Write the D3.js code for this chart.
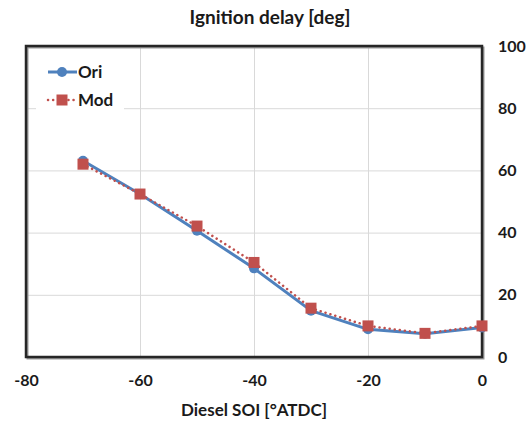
<!DOCTYPE html>
<html>
<head>
<meta charset="utf-8">
<script src="https://cdn.jsdelivr.net/npm/d3@7"></script>
<style>
  html, body { margin: 0; padding: 0; background: #fff; }
  svg { display: block; }
  text { font-family: Lato, "Open Sans", sans-serif; font-weight: bold; fill: #1a1a1a; }
</style>
</head>
<body>
<svg id="chart" width="532" height="427"></svg>
<script>
// Diesel start of injection (°ATDC)
const soi = [-70, -60, -50, -40, -30, -20, -10, 0];
// Ignition delay [deg] for each injection timing
const ori = [63.1, 52.4, 40.6, 28.5, 14.9, 8.9, 7.5, 9.5];
const mod = [62.0, 52.4, 42.1, 30.4, 15.7, 10.0, 7.6, 10.0];

const xTicks = [-80, -60, -40, -20, 0];
const yTicks = [0, 20, 40, 60, 80, 100];
const seriesNames = ["Ori", "Mod"];

const svg = d3.select("#chart");
const m = { left: 26, right: 482, top: 46, bottom: 357 };

const x = d3.scaleLinear().domain([-80, 0]).range([m.left, m.right]);
const y = d3.scaleLinear().domain([0, 100]).range([m.bottom, m.top]);
const plain = d => String(d); // hyphen-minus labels

// gridlines
svg.append("g")
  .attr("transform", `translate(0,${m.bottom})`)
  .call(d3.axisBottom(x).tickValues(xTicks.slice(1, -1)).tickSize(-(m.bottom - m.top)).tickFormat(""))
  .call(g => g.select(".domain").remove())
  .call(g => g.selectAll("line").attr("stroke", "#d9d9d9").attr("stroke-width", 1));
svg.append("g")
  .attr("transform", `translate(${m.left},0)`)
  .call(d3.axisLeft(y).tickValues(yTicks.slice(1, -1)).tickSize(-(m.right - m.left)).tickFormat(""))
  .call(g => g.select(".domain").remove())
  .call(g => g.selectAll("line").attr("stroke", "#d9d9d9").attr("stroke-width", 1));

// legend backing (hides gridline behind it)
svg.append("rect")
  .attr("x", 36).attr("y", 58).attr("width", 88).attr("height", 52)
  .attr("fill", "#fff");

// plot frame with soft shadow
svg.append("rect")
  .attr("x", m.left + 1.5).attr("y", m.top + 1.5)
  .attr("width", m.right - m.left).attr("height", m.bottom - m.top)
  .attr("fill", "none").attr("stroke", "#9a9a9a").attr("stroke-width", 2);
svg.append("rect")
  .attr("x", m.left).attr("y", m.top)
  .attr("width", m.right - m.left).attr("height", m.bottom - m.top)
  .attr("fill", "none").attr("stroke", "#262626").attr("stroke-width", 2.5);

const styleTicks = g => g.selectAll("text")
  .attr("font-size", 16).attr("font-family", "Lato, sans-serif")
  .attr("font-weight", "bold").attr("fill", "#1a1a1a");

// y tick labels on the right
svg.append("g")
  .attr("transform", `translate(${m.right},0)`)
  .call(d3.axisRight(y).tickValues(yTicks).tickSize(0).tickPadding(16).tickFormat(plain))
  .call(g => g.select(".domain").remove())
  .call(styleTicks);

// x tick labels
svg.append("g")
  .attr("transform", `translate(0,${m.bottom})`)
  .call(d3.axisBottom(x).tickValues(xTicks).tickSize(0).tickPadding(18).tickFormat(plain))
  .call(g => g.select(".domain").remove())
  .call(styleTicks);

// titles
svg.append("text").attr("x", 270).attr("y", 24).attr("text-anchor", "middle")
  .attr("font-size", 19).text("Ignition delay [deg]");
svg.append("text").attr("x", (m.left + m.right) / 2).attr("y", 416).attr("text-anchor", "middle")
  .attr("font-size", 17).text("Diesel SOI [°ATDC]");

const blue = "#4f81bd", red = "#c0504d";
const line = d3.line().x((d, i) => x(soi[i])).y(d => y(d));

// Ori series
svg.append("path").datum(ori).attr("d", line)
  .attr("fill", "none").attr("stroke", blue).attr("stroke-width", 3).attr("stroke-linejoin", "round");
svg.selectAll(".ori").data(ori).join("circle").attr("class", "ori")
  .attr("cx", (d, i) => x(soi[i])).attr("cy", d => y(d)).attr("r", 5).attr("fill", blue);

// Mod series
svg.append("path").datum(mod).attr("d", line)
  .attr("fill", "none").attr("stroke", red).attr("stroke-width", 2.5)
  .attr("stroke-dasharray", "0.1 5").attr("stroke-linecap", "round");
svg.selectAll(".mod").data(mod).join("rect").attr("class", "mod")
  .attr("x", (d, i) => x(soi[i]) - 5.5).attr("y", d => y(d) - 5.5)
  .attr("width", 11).attr("height", 11).attr("fill", red);

// legend
const lg = svg.append("g");
lg.append("line").attr("x1", 48).attr("x2", 77).attr("y1", 72).attr("y2", 72)
  .attr("stroke", blue).attr("stroke-width", 3);
lg.append("circle").attr("cx", 62).attr("cy", 72).attr("r", 5).attr("fill", blue);
lg.append("text").attr("x", 78).attr("y", 78).attr("font-size", 17).text(seriesNames[0]);
lg.append("line").attr("x1", 48).attr("x2", 77).attr("y1", 100).attr("y2", 100)
  .attr("stroke", red).attr("stroke-width", 2.5).attr("stroke-dasharray", "0.1 5").attr("stroke-linecap", "round");
lg.append("rect").attr("x", 56.5).attr("y", 94.5).attr("width", 11).attr("height", 11).attr("fill", red);
lg.append("text").attr("x", 78).attr("y", 106).attr("font-size", 17).text(seriesNames[1]);
</script>
</body>
</html>
